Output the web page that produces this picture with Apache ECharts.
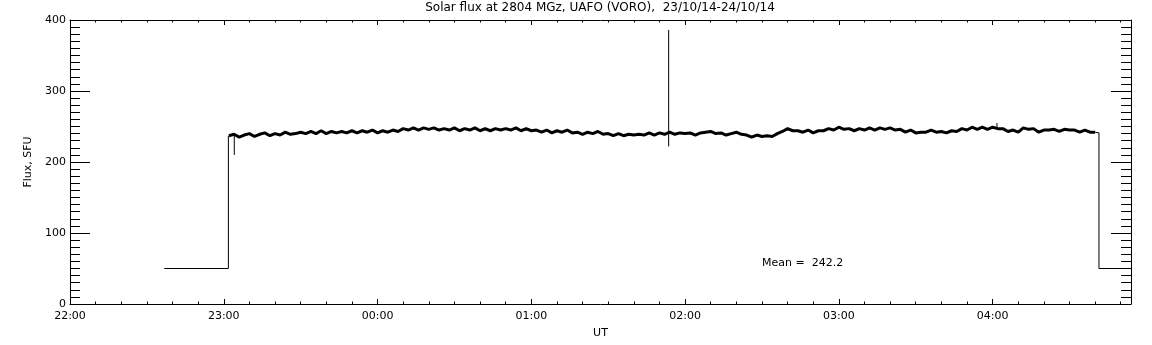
<!DOCTYPE html>
<html>
<head>
<meta charset="utf-8">
<style>
  html, body { margin: 0; padding: 0; background: #fff; }
  #chart { width: 1152px; height: 345px; }
</style>
<script src="https://cdn.jsdelivr.net/npm/echarts@6/dist/echarts.min.js"></script>
</head>
<body>
<div id="chart"></div>
<script>
// minutes since 22:00 UT on 23/10/14
const xTickLabels = ['22:00', '23:00', '00:00', '01:00', '02:00', '03:00', '04:00']

// quiet-sun record, one reading every 2 minutes from 23:02 to 04:40
const bandStartMin = 62
const bandStepMin = 2
const bandFlux = [
  237, 239, 235, 238, 240, 236, 239, 241, 237, 240,
  238, 242, 239, 240, 242, 240, 243, 240, 244, 240,
  243, 241, 243, 241, 244, 241, 244, 242, 245, 241,
  244, 242, 245, 243, 247, 245, 248, 245, 248, 246,
  248, 245, 247, 245, 248, 244, 247, 245, 248, 244,
  247, 244, 247, 245, 247, 245, 248, 244, 247, 244,
  245, 242, 245, 241, 244, 242, 245, 241, 242, 239,
  242, 240, 243, 239, 240, 237, 240, 237, 239, 238,
  239, 238, 241, 238, 241, 239, 242, 239, 241, 240,
  241, 238, 241, 242, 243, 240, 241, 238, 240, 242,
  239, 238, 235, 238, 236, 237, 236, 240, 243, 247,
  244, 244, 242, 245, 241, 244, 244, 247, 245, 249,
  246, 247, 244, 247, 245, 248, 245, 248, 246, 248,
  245, 246, 242, 245, 241, 242, 242, 245, 242, 243,
  241, 244, 243, 247, 245, 249, 246, 249, 246, 249,
  247, 247, 243, 245, 242, 248, 246, 247, 242, 245,
  245, 246, 243, 246, 245, 245, 242, 245, 242, 242
]

// calibration steps and single-sample spikes (null breaks the line)
const stepTimes = [36.8, 61.8, 61.8, 61.8, 64.1, 64.1, 64.1, 233.6, 233.6, 233.6, 361.7, 361.7, 361.7, 400, 401.5, 401.5, 414]
const stepFlux  = [50,   50,   237,  null, 237,  210,  null, 222,   386,   null,  247,   255,   null,  242, 241,   50,    50]

const meanFlux = 242.2

const bandData = bandFlux.map((v, i) => [bandStartMin + i * bandStepMin, v])
const stepData = stepTimes.map((t, i) => [t, stepFlux[i]])

const font = 'DejaVu Sans'
const chart = echarts.init(document.getElementById('chart'))

const xBase = {
  type: 'value',
  min: 0,
  max: 414,
  interval: 60,
  axisLine: { onZero: false, lineStyle: { color: '#000', width: 1 } },
  axisTick: { inside: true, length: 5, lineStyle: { color: '#000' } },
  minorTick: { show: true, splitNumber: 6, length: 2.5, lineStyle: { color: '#000' } },
  splitLine: { show: false },
}

const yBase = {
  type: 'value',
  min: 0,
  max: 400,
  interval: 100,
  axisLine: { show: true, onZero: false, lineStyle: { color: '#000', width: 1 } },
  axisTick: { show: true, inside: true, length: 20, lineStyle: { color: '#000' } },
  minorTick: { show: true, splitNumber: 10, length: 10, lineStyle: { color: '#000' } },
  splitLine: { show: false },
}

chart.setOption({
  animation: false,
  backgroundColor: '#fff',
  grid: { left: 70, right: 21, top: 20, bottom: 41 },
  xAxis: [
    {
      ...xBase,
      position: 'bottom',
      name: 'UT',
      nameLocation: 'middle',
      nameGap: 24,
      nameTextStyle: { color: '#000', fontFamily: font, fontSize: 11 },
      axisLabel: {
        color: '#000',
        fontFamily: font,
        fontSize: 11,
        margin: 7,
        showMinLabel: true,
        showMaxLabel: false,
        formatter: v => xTickLabels[Math.round(v / 60)] || '',
      },
    },
    { ...xBase, position: 'top', axisLabel: { show: false } },
  ],
  yAxis: [
    {
      ...yBase,
      position: 'left',
      name: 'Flux, SFU',
      nameLocation: 'middle',
      nameGap: 36,
      nameRotate: 90,
      nameTextStyle: { color: '#000', fontFamily: font, fontSize: 11 },
      axisLabel: { color: '#000', fontFamily: font, fontSize: 11, margin: 4, showMinLabel: true, showMaxLabel: true },
    },
    { ...yBase, position: 'right', axisLabel: { show: false } },
  ],
  graphic: [
    {
      type: 'text',
      x: 600,
      y: 2,
      style: {
        text: 'Solar flux at 2804 MGz, UAFO (VORO),  23/10/14-24/10/14',
        fill: '#000',
        font: `12px "${font}"`,
        textAlign: 'center',
      },
    },
    {
      type: 'text',
      x: 762,
      y: 258,
      style: {
        text: `Mean =  ${meanFlux.toFixed(1)}`,
        fill: '#000',
        font: `11px "${font}"`,
      },
    },
  ],
  series: [
    {
      name: 'flux',
      type: 'line',
      data: bandData,
      showSymbol: false,
      lineStyle: { color: '#000', width: 3 },
    },
    {
      name: 'steps',
      type: 'line',
      data: stepData,
      showSymbol: false,
      connectNulls: false,
      lineStyle: { color: '#000', width: 1 },
    },
  ],
})
</script>
</body>
</html>
